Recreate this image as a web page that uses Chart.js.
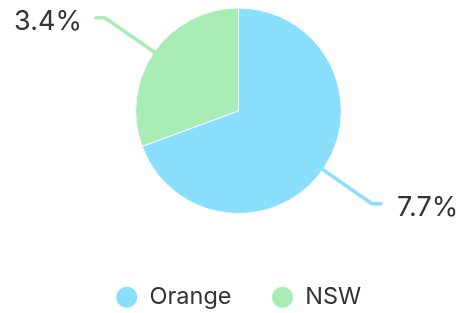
<!DOCTYPE html>
<html>
<head>
<meta charset="utf-8">
<script src="https://cdn.jsdelivr.net/npm/chart.js@4"></script>
<style>
  html, body { margin: 0; padding: 0; background: #fff; }
  #wrap { width: 473px; height: 313px; }
</style>
</head>
<body>
<div id="wrap"><canvas id="pieChart"></canvas></div>
<script>
const labels = ['Orange', 'NSW'];
const values = [7.7, 3.4];
const colors = ['#8adfff', '#a8ecb6'];

// callout lines + percentage labels outside the slices
const callouts = {
    id: 'callouts',
    afterDatasetsDraw(chart) {
        const ctx = chart.ctx;
        const meta = chart.getDatasetMeta(0);
        ctx.save();
        meta.data.forEach(function (arc, i) {
            const p = arc.getProps(['x', 'y', 'startAngle', 'endAngle', 'outerRadius'], true);
            const mid = (p.startAngle + p.endAngle) / 2;
            const cos = Math.cos(mid), sin = Math.sin(mid);
            const x0 = p.x + cos * p.outerRadius;
            const y0 = p.y + sin * p.outerRadius;
            const x1 = p.x + cos * (p.outerRadius + 60);
            const y1 = p.y + sin * (p.outerRadius + 60);
            const right = cos >= 0;
            const x2 = x1 + (right ? 9 : -9);

            ctx.strokeStyle = colors[i];
            ctx.lineWidth = 3.5;
            ctx.lineCap = 'round';
            ctx.lineJoin = 'round';
            ctx.beginPath();
            ctx.moveTo(x0, y0);
            ctx.arcTo(x1, y1, x2, y1, 6);
            ctx.lineTo(x2, y1);
            ctx.stroke();

            ctx.fillStyle = '#333333';
            ctx.font = '27px Inter';
            ctx.textBaseline = 'middle';
            ctx.textAlign = right ? 'left' : 'right';
            ctx.fillText(values[i] + '%', x2 + (right ? 16 : -14), y1 + 4);
        });
        ctx.restore();
    }
};

const ctx = document.getElementById('pieChart');

const data = {
    labels: labels,
    datasets: [{
        data: values,
        backgroundColor: colors,
        borderColor: '#ffffff',
        borderWidth: 1
    }]
};

const config = {
    type: 'pie',
    data: data,
    options: {
        responsive: true,
        maintainAspectRatio: false,
        animation: false,
        layout: {
            padding: { top: 7.5, bottom: -6, left: 4, right: 0 }
        },
        plugins: {
            legend: {
                position: 'bottom',
                title: {
                    display: true,
                    text: '',
                    font: { size: 12 },
                    padding: { top: 8.5, bottom: 8.5 }
                },
                labels: {
                    usePointStyle: true,
                    pointStyle: 'circle',
                    boxWidth: 22,
                    boxHeight: 15.6,
                    padding: 40,
                    color: '#333333',
                    font: { family: 'Inter', size: 23.5 }
                }
            },
            tooltip: { enabled: false }
        }
    },
    plugins: [callouts]
};

const myChart = new Chart(ctx, config);
</script>
</body>
</html>
